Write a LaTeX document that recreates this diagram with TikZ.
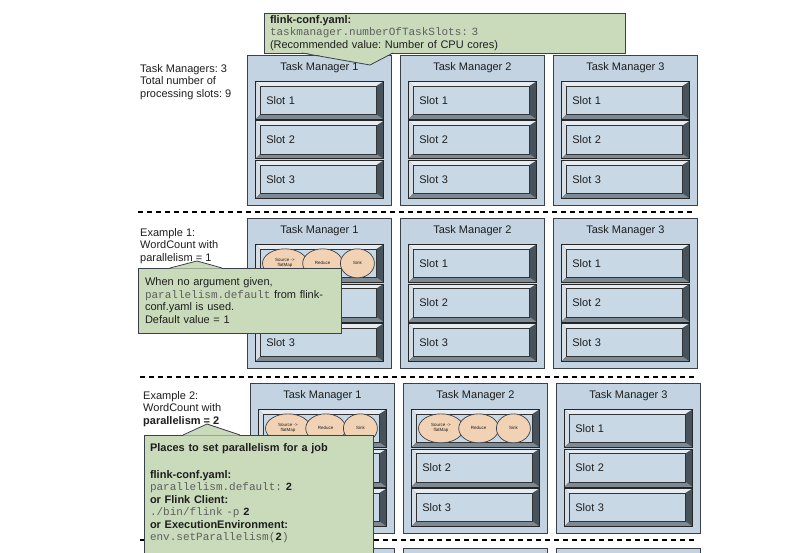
\documentclass[tikz,border=0pt]{standalone}
\usepackage{fontspec}
\setmainfont{Liberation Sans}
\setmonofont{Liberation Mono}
\usetikzlibrary{positioning, shapes.geometric}
\frenchspacing

\definecolor{tmfill}{HTML}{C3D3E1}
\definecolor{slotface}{HTML}{C9D8E5}
\definecolor{edge}{HTML}{3A4148}
\definecolor{bevlight}{HTML}{E6ECF1}
\definecolor{bevside}{HTML}{D5DEE6}
\definecolor{bevmid}{HTML}{7D8993}
\definecolor{bevdark}{HTML}{46525C}
\definecolor{notefill}{HTML}{CADBBC}
\definecolor{opfill}{HTML}{F1D2B5}
\definecolor{ink}{HTML}{1E1E1E}
\definecolor{codegray}{HTML}{5E5E5E}

\newcommand{\cfgtt}[1]{{\ttfamily\color{codegray}#1}}
\newcommand{\cfgnum}[1]{{\ttfamily\bfseries\color{ink}#1}}

\begin{document}
\begin{tikzpicture}[x=1pt, y=-1pt, font=\fontsize{11}{12.5}\selectfont, text=ink,
    tmbox/.style={draw=edge, line width=0.9pt, fill=tmfill, minimum width=144pt, minimum height=150pt, inner sep=0pt, anchor=north west},
    tmtitle/.style={inner sep=0pt},
    slotbox/.style={draw=black!85, line width=0.7pt, fill=bevdark, minimum width=128pt, minimum height=38pt,
        text width=106pt, inner xsep=11pt, inner ysep=0pt, align=left, anchor=north west,
        path picture={
            \fill[bevlight] (path picture bounding box.north west) -- (path picture bounding box.north east)
                -- ([xshift=-7pt,yshift=-4.5pt]path picture bounding box.north east)
                -- ([xshift=5pt,yshift=-4.5pt]path picture bounding box.north west) -- cycle;
            \fill[bevside] (path picture bounding box.north west) -- ([xshift=5pt,yshift=-4.5pt]path picture bounding box.north west)
                -- ([xshift=5pt,yshift=5pt]path picture bounding box.south west) -- (path picture bounding box.south west) -- cycle;
            \fill[bevmid] (path picture bounding box.south west) -- ([xshift=5pt,yshift=5pt]path picture bounding box.south west)
                -- ([xshift=-7pt,yshift=5pt]path picture bounding box.south east) -- (path picture bounding box.south east) -- cycle;
            \draw[line width=0.6pt, draw=black!80, fill=slotface] ([xshift=5pt,yshift=-4.5pt]path picture bounding box.north west)
                rectangle ([xshift=-7pt,yshift=5pt]path picture bounding box.south east);
        }},
    op/.style={ellipse, draw=edge, line width=0.7pt, fill=opfill, minimum height=29pt, inner sep=0pt, align=center,
        font=\fontsize{4.5}{5}\selectfont},
    note/.style={draw=edge, line width=0.8pt, fill=notefill, anchor=north west, align=left, inner ysep=0pt, outer sep=0pt},
    sidetext/.style={anchor=north west, inner sep=0pt, align=left},
    sep/.style={line width=1.1pt, dash pattern=on 5pt off 4pt}
]
\useasboundingbox (0,0) rectangle (791,553);
\clip (0,0) rectangle (791,553);
\fill[white] (0,0) rectangle (791,553);

% task managers with their slots
\foreach \r/\ty/\dx in {1/55/0, 2/218/0, 3/383/3} {
    \foreach \c/\tx in {1/247, 2/400, 3/553} {
        \node[tmbox] (tm\r\c) at (\tx+\dx, \ty) {};
        \node[tmtitle, below=7.5pt of tm\r\c.north] (tt\r\c) {Task Manager \c};
        \foreach \s in {1,2,3} {
            \pgfmathsetmacro{\sy}{26+(\s-1)*39.5}
            \pgfmathtruncatemacro{\busy}{(\s==1)&&(((\r==2)&&(\c==1))||((\r==3)&&(\c<3)))}
            \ifnum\busy=1
                \node[slotbox] (s\r\c\s) at ([xshift=8pt, yshift=-\sy pt]tm\r\c.north west) {};
            \else
                \node[slotbox] (s\r\c\s) at ([xshift=8pt, yshift=-\sy pt]tm\r\c.north west) {Slot \s};
            \fi
        }
    }
}
\foreach \c/\tx in {1/250, 2/403, 3/556}
    \node[tmbox] (tm4\c) at (\tx, 548) {};

% WordCount operators
\foreach \k in {21, 31, 32} {
    \node[op, minimum width=45pt] (src\k) at ([xshift=30pt]s\k1.west) {Source ->\\flatMap};
    \node[op, minimum width=40pt, right=-5.5pt of src\k] (red\k) {Reduce};
    \node[op, minimum width=34pt, right=-3pt of red\k] (snk\k) {Sink};
}

% separators
\draw[sep] (138,212) -- (694,212);
\draw[sep] (140,377) -- (694,377);
\draw[sep] (140,540) -- (697,540);

% side texts
\node[sidetext] (slotsum) at (140,64) {Task Managers: 3\\Total number of\\processing slots: 9};
\node[sidetext] (ex1) at (140,228) {Example 1:\\WordCount with\\parallelism = 1};
\node[sidetext] (ex2) at (143,391) {Example 2:\\WordCount with\\\textbf{parallelism = 2}};

% callouts
\node[note, minimum width=361pt, minimum height=40pt, text width=349pt, inner xsep=6pt] (cfg) at (264,13)
    {\textbf{flink-conf.yaml:}\\ \cfgtt{taskmanager.numberOfTaskSlots: 3}\\ (Recommended value: Number of CPU cores)};
\coordinate (cfgtip) at (370,65);
\fill[notefill] ([xshift=38pt,yshift=0.6pt]cfg.south west) -- (cfgtip) -- ([xshift=129pt,yshift=0.6pt]cfg.south west) -- cycle;
\draw[edge, line width=0.8pt] ([xshift=38pt]cfg.south west) -- (cfgtip) -- ([xshift=129pt]cfg.south west);

\node[note, minimum width=203pt, minimum height=65pt, text width=189pt, inner xsep=7pt] (dflt) at (138,268)
    {When no argument given,\\ \cfgtt{parallelism.default} from flink-\\conf.yaml is used.\\ Default value = 1};
\coordinate (dflttip) at (197,261);
\fill[notefill] ([xshift=32pt,yshift=-0.6pt]dflt.north west) -- (dflttip) -- ([xshift=84pt,yshift=-0.6pt]dflt.north west) -- cycle;
\draw[edge, line width=0.8pt] ([xshift=32pt]dflt.north west) -- (dflttip) -- ([xshift=84pt]dflt.north west);

\node[note, text width=217pt, inner xsep=6pt, inner ysep=9pt] (where) at (144,435)
    {\textbf{Places to set parallelism for a job}\\[14pt]
     \textbf{flink-conf.yaml:}\\
     \cfgtt{parallelism.default: }\cfgnum{2}\\
     \textbf{or Flink Client:}\\
     \cfgtt{./bin/flink -p }\cfgnum{2}\\
     \textbf{or ExecutionEnvironment:}\\
     \cfgtt{env.setParallelism(}\cfgnum{2}\cfgtt{)}\rule[-20pt]{0pt}{0pt}};
\coordinate (wheretip) at (207,424);
\fill[notefill] ([xshift=39pt,yshift=-0.6pt]where.north west) -- (wheretip) -- ([xshift=96pt,yshift=-0.6pt]where.north west) -- cycle;
\draw[edge, line width=0.8pt] ([xshift=39pt]where.north west) -- (wheretip) -- ([xshift=96pt]where.north west);
\end{tikzpicture}
\end{document}
